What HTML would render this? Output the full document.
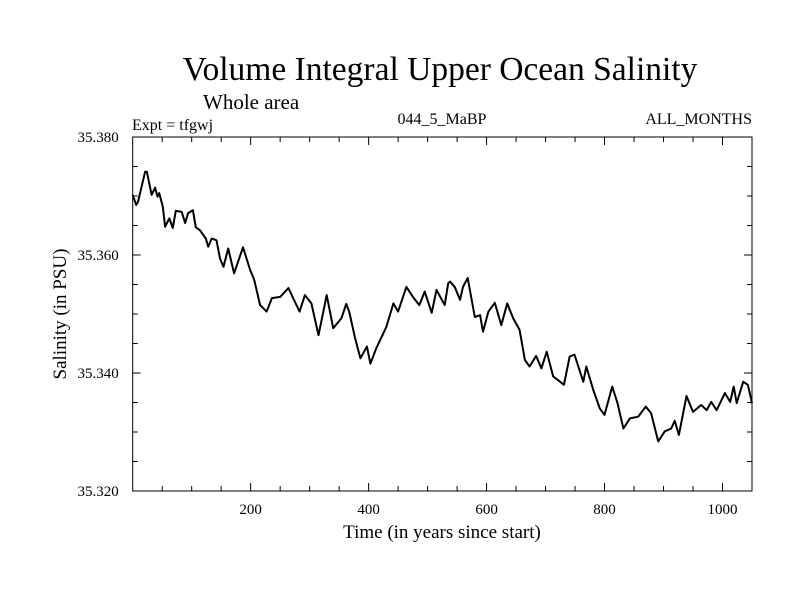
<!DOCTYPE html>
<html><head><meta charset="utf-8"><style>
html,body{margin:0;padding:0;background:#fff;}
svg{display:block;font-family:"Liberation Serif",serif;}
</style></head><body>
<svg id="chart" width="800" height="600">
<text x="440" y="80" font-size="33.5" text-anchor="middle">Volume Integral Upper Ocean Salinity</text>
<text x="203" y="109" font-size="21">Whole area</text>
<text x="132" y="130" font-size="16">Expt = tfgwj</text>
<text x="442" y="124" font-size="16" text-anchor="middle">044_5_MaBP</text>
<text x="752" y="124" font-size="16" text-anchor="end">ALL_MONTHS</text>
<text transform="translate(66,314) rotate(-90)" font-size="19" text-anchor="middle">Salinity (in PSU)</text>
<text x="442" y="538" font-size="19" text-anchor="middle">Time (in years since start)</text>
<g id="axes"></g>
<g id="series"></g>
</svg>
<script>
const years=[0,6,9,21,24,32,38,42,45,51,55,62,68,73,83,89,94,102,107,114,124,128,134,142,148,154,162,172,187,199,206,216,227,236,250,264,272,283,292,303,315,329,340,354,362,367,377,386,397,403,413,430,442,450,464,475,486,495,507,515,524,529,535,538,546,555,560,568,580,589,594,603,614,625,635,645,656,665,673,684,693,702,713,721,731,741,749,764,769,781,792,800,813,822,832,843,857,870,879,891,902,913,919,926,939,950,964,973,981,990,1004,1013,1019,1024,1035,1043,1050];
const salinity=[35.3702,35.3685,35.3690,35.3741,35.3741,35.3702,35.3714,35.3699,35.3705,35.3682,35.3648,35.3662,35.3646,35.3675,35.3673,35.3654,35.3671,35.3676,35.3647,35.3642,35.3628,35.3614,35.3628,35.3625,35.3594,35.3580,35.3611,35.3569,35.3613,35.3575,35.3558,35.3515,35.3504,35.3527,35.3529,35.3544,35.3527,35.3504,35.3532,35.3518,35.3464,35.3532,35.3476,35.3493,35.3517,35.3504,35.3459,35.3425,35.3445,35.3416,35.3442,35.3478,35.3518,35.3504,35.3546,35.3529,35.3515,35.3538,35.3502,35.3541,35.3524,35.3515,35.3552,35.3555,35.3546,35.3524,35.3546,35.3561,35.3495,35.3498,35.3470,35.3504,35.3519,35.3481,35.3518,35.3493,35.3473,35.3422,35.3411,35.3429,35.3408,35.3436,35.3394,35.3388,35.3380,35.3428,35.3431,35.3385,35.3411,35.3371,35.3340,35.3329,35.3377,35.3349,35.3306,35.3323,35.3326,35.3343,35.3332,35.3284,35.3301,35.3306,35.3319,35.3295,35.3361,35.3334,35.3346,35.3337,35.3351,35.3337,35.3366,35.3351,35.3377,35.3349,35.3385,35.3380,35.3349];
const xTicks=[200,400,600,800,1000];
const yTicks=[35.320,35.340,35.360,35.380];
const yTickLabels=["35.320","35.340","35.360","35.380"];
const X0=132.7,X1=752,Y0=491,Y1=137,xmin=0,xmax=1050,ymin=35.32,ymax=35.38;
const sx=v=>X0+(v-xmin)/(xmax-xmin)*(X1-X0);
const sy=v=>Y0-(v-ymin)/(ymax-ymin)*(Y0-Y1);
const NS="http://www.w3.org/2000/svg";
const axes=document.getElementById('axes');
function mk(tag,attrs,parent){const e=document.createElementNS(NS,tag);for(const k in attrs)e.setAttribute(k,attrs[k]);parent.appendChild(e);return e;}
const frame=mk('rect',{x:X0,y:Y1,width:X1-X0,height:Y0-Y1,fill:'none',stroke:'#000','stroke-width':1},axes);


for(let v=50;v<xmax;v+=50){const major=v%200===0;const L=major?8:5;const x=sx(v);
 mk('line',{x1:x,y1:Y0,x2:x,y2:Y0-L,stroke:'#000'},axes);
 mk('line',{x1:x,y1:Y1,x2:x,y2:Y1+L,stroke:'#000'},axes);}
for(let i=1;i<12;i++){const v=ymin+i*0.005;const major=i%4===0;const L=major?8:5;const y=sy(v);
 mk('line',{x1:X0,y1:y,x2:X0+L,y2:y,stroke:'#000'},axes);
 mk('line',{x1:X1,y1:y,x2:X1-L,y2:y,stroke:'#000'},axes);}
xTicks.forEach(v=>{const t=mk('text',{x:sx(v),y:Y0+23,'font-size':15,'text-anchor':'middle'},axes);t.textContent=String(v);
 
 });
yTicks.forEach((v,i)=>{const t=mk('text',{x:X0-14,y:sy(v)+5,'font-size':15,'text-anchor':'end'},axes);t.textContent=yTickLabels[i];
 
 });
const d=years.map((yr,i)=>(i?'L':'M')+sx(yr).toFixed(1)+','+sy(salinity[i]).toFixed(1)).join('');
const line=mk('path',{d:d,fill:'none',stroke:'#000','stroke-width':2,'stroke-linejoin':'round'},document.getElementById('series'));


</script>
</body></html>
